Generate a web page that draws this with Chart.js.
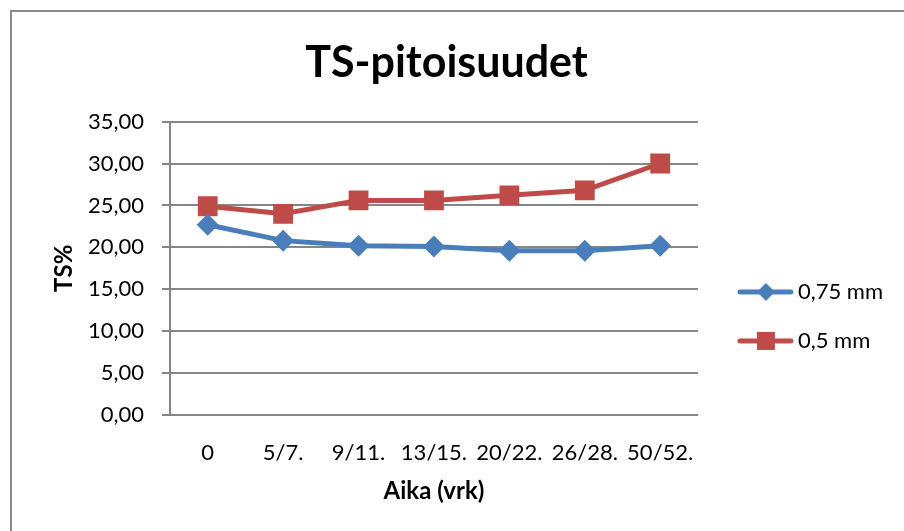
<!DOCTYPE html>
<html>
    <head>
        <meta charset="utf-8">
        <script src="https://cdn.jsdelivr.net/npm/chart.js@4"></script>
        <style>
            body { margin: 0; background: #fff; }
            #wrap { position: relative; width: 904px; height: 531px; }
            #frame { position: absolute; left: 10px; top: 10px; right: 0; bottom: 0;
                     border-top: 2px solid #8a8a8a; border-left: 2px solid #8a8a8a; pointer-events: none; }
        </style>
    </head>
    <body>
        <div id="wrap">
            <canvas id="myChart" width="904" height="531"></canvas>
            <div id="frame"></div>
        </div>

        <script>
            // DATA
            const categories = ['0', '5/7.', '9/11.', '13/15.', '20/22.', '26/28.', '50/52.'];
            const ts075 = [22.7, 20.8, 20.2, 20.1, 19.6, 19.6, 20.2];
            const ts05 = [24.9, 24.0, 25.6, 25.6, 26.2, 26.8, 30.0];
            const seriesNames = ['0,75 mm', '0,5 mm'];

            const BLUE = '#4a7ebb';
            const RED = '#be4b48';
            const FONT = 'Lato, "Open Sans", sans-serif';

            // legend sample: line with marker, drawn on the right part of a wider canvas
            function legendIcon(color, shape) {
                const c = document.createElement('canvas');
                c.width = 76; c.height = 24;
                const g = c.getContext('2d');
                g.strokeStyle = color;
                g.lineWidth = 5;
                g.lineCap = 'round';
                g.beginPath();
                g.moveTo(22, 12); g.lineTo(73, 12);
                g.stroke();
                g.fillStyle = color;
                const cx = 48;
                if (shape === 'diamond') {
                    g.beginPath();
                    g.moveTo(cx, 3); g.lineTo(cx + 9, 12); g.lineTo(cx, 21); g.lineTo(cx - 9, 12);
                    g.closePath(); g.fill();
                } else {
                    g.fillRect(cx - 9, 3, 18, 18);
                }
                return c;
            }
            const icons = [legendIcon(BLUE, 'diamond'), legendIcon(RED, 'square')];

            const data = {
                labels: categories,
                datasets: [{
                    label: seriesNames[0],
                    data: ts075,
                    borderColor: BLUE,
                    backgroundColor: BLUE,
                    borderWidth: 5,
                    pointStyle: 'rectRot',
                    pointRadius: 11,
                    pointBorderWidth: 0,
                    tension: 0
                }, {
                    label: seriesNames[1],
                    data: ts05,
                    borderColor: RED,
                    backgroundColor: RED,
                    borderWidth: 5,
                    pointStyle: 'rect',
                    pointRadius: 14,
                    pointBorderWidth: 0,
                    tension: 0
                }]
            };

            const config = {
                type: 'line',
                data,
                options: {
                    responsive: false,
                    animation: false,
                    layout: { padding: { left: 0, right: 11, top: 0, bottom: 0 } },
                    plugins: {
                        title: {
                            display: true,
                            text: 'TS-pitoisuudet',
                            color: '#000',
                            font: { family: FONT, size: 43, weight: 'bold' },
                            padding: { top: 37, bottom: 33 }
                        },
                        legend: {
                            position: 'right',
                            title: { display: true, text: ' ', font: { size: 4 }, padding: { top: 52, bottom: 45 } },
                            labels: {
                                usePointStyle: true,
                                pointStyleWidth: 62,
                                padding: 27,
                                color: '#000',
                                font: { family: FONT, size: 22 },
                                generateLabels: chart => chart.data.datasets.map((ds, i) => ({
                                    text: ds.label,
                                    fontColor: '#000',
                                    pointStyle: icons[i],
                                    fillStyle: ds.borderColor,
                                    strokeStyle: ds.borderColor,
                                    lineWidth: 0,
                                    datasetIndex: i
                                }))
                            }
                        },
                        tooltip: { enabled: false }
                    },
                    scales: {
                        x: {
                            offset: true,
                            afterFit: s => { s.height = 116; },
                            grid: { display: false },
                            border: { display: true, color: '#868686', width: 2 },
                            ticks: { color: '#000', font: { family: FONT, size: 22 }, padding: 17, maxRotation: 0, autoSkip: false },
                            title: {
                                display: true, text: 'Aika (vrk)', color: '#000',
                                font: { family: FONT, size: 24, weight: 'bold' },
                                padding: { top: 0, bottom: 25 }
                            }
                        },
                        y: {
                            min: 0,
                            max: 35,
                            afterFit: s => { s.width = 170; },
                            grid: { color: '#868686', lineWidth: 2, tickLength: 8, drawTicks: true },
                            border: { display: true, color: '#868686', width: 2 },
                            ticks: {
                                stepSize: 5,
                                color: '#000',
                                font: { family: FONT, size: 22 },
                                padding: 18,
                                callback: v => v.toFixed(2).replace('.', ',')
                            },
                            title: {
                                display: true, text: 'TS%', color: '#000',
                                font: { family: FONT, size: 24, weight: 'bold' },
                                padding: { top: 50, bottom: 0 }
                            }
                        }
                    }
                }
            };

            // RENDER
            const myChart = new Chart(document.getElementById('myChart'), config);
        </script>
    </body>
</html>
